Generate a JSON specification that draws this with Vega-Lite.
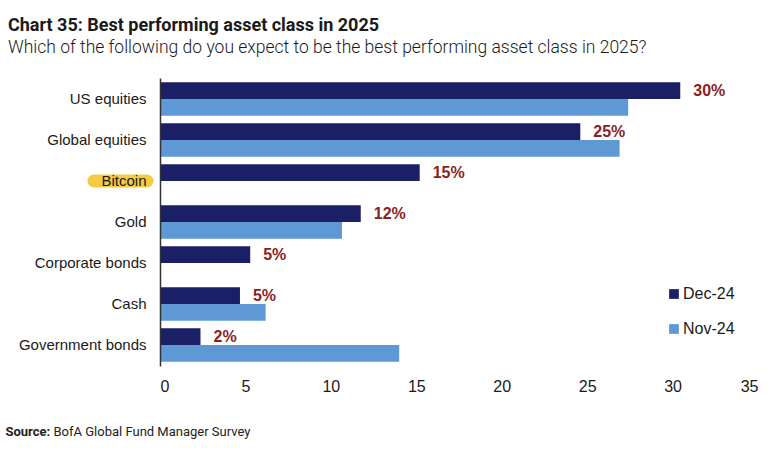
{
  "$schema": "https://vega.github.io/schema/vega-lite/v6.json",
  "width": 598,
  "height": 288,
  "autosize": {"type": "none"},
  "padding": {"left": 160, "top": 78, "right": 26, "bottom": 84},
  "background": "white",
  "title": {
    "text": "Chart 35: Best performing asset class in 2025",
    "subtitle": "Which of the following do you expect to be the best performing asset class in 2025?",
    "anchor": "start",
    "frame": "group",
    "dx": -152,
    "offset": 22,
    "font": "Roboto",
    "fontSize": 18,
    "fontWeight": "bold",
    "color": "#1a1a1a",
    "subtitleFont": "Roboto",
    "subtitleFontSize": 17.5,
    "subtitleFontWeight": 300,
    "subtitleColor": "#1a1a1a",
    "subtitlePadding": 4
  },
  "data": {
    "values": [
      {"asset": "US equities", "series": "Dec-24", "value": 30.45, "label": "30%"},
      {"asset": "US equities", "series": "Nov-24", "value": 27.4},
      {"asset": "Global equities", "series": "Dec-24", "value": 24.6, "label": "25%"},
      {"asset": "Global equities", "series": "Nov-24", "value": 26.9},
      {"asset": "Bitcoin", "series": "Dec-24", "value": 15.2, "label": "15%"},
      {"asset": "Gold", "series": "Dec-24", "value": 11.75, "label": "12%"},
      {"asset": "Gold", "series": "Nov-24", "value": 10.65},
      {"asset": "Corporate bonds", "series": "Dec-24", "value": 5.28, "label": "5%"},
      {"asset": "Cash", "series": "Dec-24", "value": 4.68, "label": "5%"},
      {"asset": "Cash", "series": "Nov-24", "value": 6.18},
      {"asset": "Government bonds", "series": "Dec-24", "value": 2.37, "label": "2%"},
      {"asset": "Government bonds", "series": "Nov-24", "value": 14.0}
    ]
  },
  "encoding": {
    "y": {
      "field": "asset",
      "type": "nominal",
      "sort": ["US equities", "Global equities", "Bitcoin", "Gold", "Corporate bonds", "Cash", "Government bonds"],
      "scale": {"paddingInner": 0.185, "paddingOuter": 0.105},
      "axis": {
        "title": "BofA Global Fund Manager Survey",
        "titleAngle": 0,
        "titleX": -107,
        "titleY": 357,
        "titleAlign": "left",
        "titleBaseline": "alphabetic",
        "titleFont": "Roboto",
        "titleFontSize": 13,
        "titleFontWeight": "normal",
        "titleColor": "#222222",
        "ticks": false,
        "labelFont": "Liberation Sans",
        "labelFontSize": 15,
        "labelColor": "#1a1a1a",
        "labelPadding": 14,
        "domainColor": "#333333",
        "domainWidth": 1.5,
        "zindex": 1
      }
    }
  },
  "layer": [
    {
      "transform": [{"filter": "datum.asset === 'Bitcoin'"}],
      "mark": {"type": "rule", "strokeWidth": 13, "strokeCap": "round", "color": "#F4C430", "opacity": 0.9},
      "encoding": {
        "x": {"datum": -3.87, "type": "quantitative", "scale": {"domain": [0, 35], "nice": false}},
        "x2": {"datum": -0.76}
      }
    },
    {
      "mark": {"type": "bar"},
      "encoding": {
        "x": {
          "field": "value",
          "type": "quantitative",
          "scale": {"domain": [0, 35], "nice": false},
          "axis": {
            "values": [0, 5, 10, 15, 20, 25, 30, 35],
            "grid": false,
            "ticks": false,
            "domain": false,
            "labelFont": "Liberation Sans",
            "labelFontSize": 16,
            "labelColor": "#1a1a1a",
            "labelPadding": 12,
            "title": "Source:",
            "titleX": -155,
            "titleY": 69,
            "titleAlign": "left",
            "titleBaseline": "alphabetic",
            "titleFont": "Roboto",
            "titleFontSize": 13,
            "titleFontWeight": "bold",
            "titleColor": "#222222"
          }
        },
        "yOffset": {"field": "series", "type": "nominal", "sort": ["Dec-24", "Nov-24"], "scale": {"domain": ["Dec-24", "Nov-24"], "paddingInner": 0, "paddingOuter": 0}},
        "color": {
          "field": "series",
          "type": "nominal",
          "sort": ["Dec-24", "Nov-24"],
          "scale": {"domain": ["Dec-24", "Nov-24"], "range": ["#1B1F66", "#5E99D6"]},
          "legend": {
            "title": null,
            "orient": "none",
            "legendX": 506,
            "legendY": 208,
            "symbolType": "square",
            "symbolSize": 95,
            "symbolStrokeWidth": 0,
            "labelFont": "Liberation Sans",
            "labelFontSize": 16,
            "labelColor": "#1a1a1a",
            "labelOffset": 1,
            "rowPadding": 19
          }
        }
      }
    },
    {
      "transform": [{"filter": "datum.series === 'Dec-24'"}],
      "mark": {"type": "text", "align": "left", "baseline": "middle", "dx": 13, "font": "Liberation Sans", "fontSize": 16, "fontWeight": "bold", "color": "#8B1E1E"},
      "encoding": {
        "x": {"field": "value", "type": "quantitative"},
        "yOffset": {"field": "series", "type": "nominal"},
        "text": {"field": "label"}
      }
    }
  ],
  "config": {
    "view": {"stroke": null}
  }
}
